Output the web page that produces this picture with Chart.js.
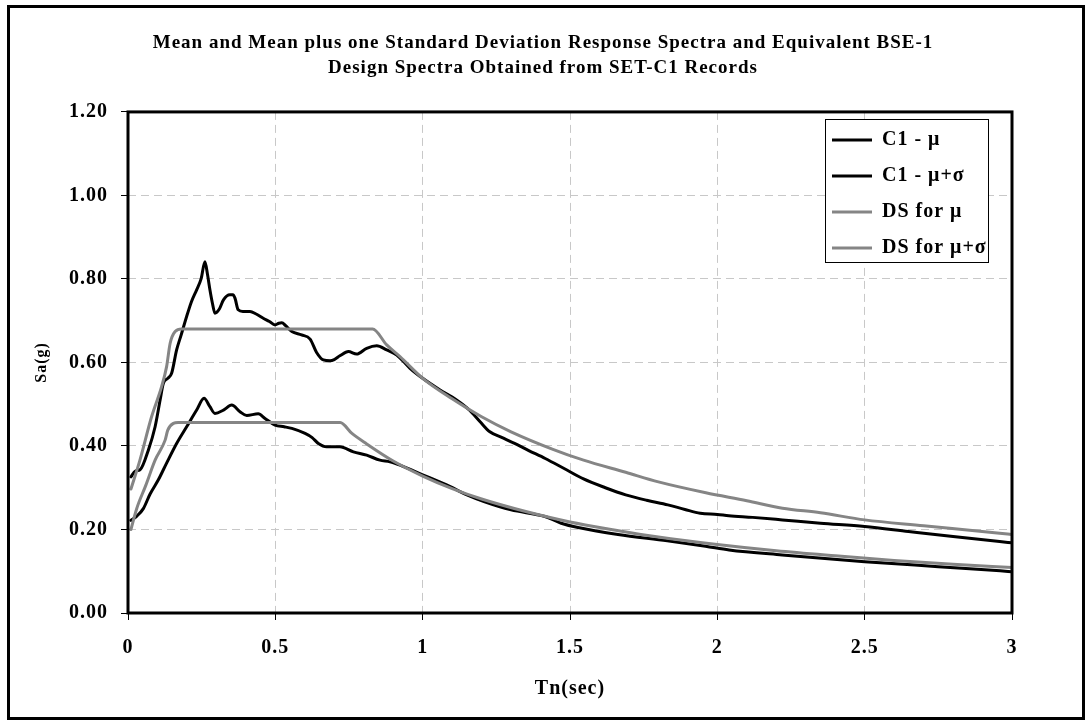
<!DOCTYPE html>
<html>
<head>
<meta charset="utf-8">
<script src="https://cdn.jsdelivr.net/npm/chart.js@4.4.1/dist/chart.umd.min.js"></script>
<style>
  html, body { margin: 0; padding: 0; background: #ffffff; }
  #wrap { width: 1086px; height: 722px; }
</style>
</head>
<body>
<div id="wrap"><canvas id="c" width="1086" height="722"></canvas></div>
<script>
// ---- Data ----
const titleLines = [
  'Mean and Mean plus one Standard Deviation Response Spectra and Equivalent BSE-1',
  'Design Spectra Obtained from SET-C1 Records'
];
const seriesNames = ['C1 - \u03bc', 'C1 - \u03bc+\u03c3', 'DS for \u03bc', 'DS for \u03bc+\u03c3'];
const xAxisTitle = 'Tn(sec)';
const yAxisTitle = 'Sa(g)';

const xTickValues = [0, 0.5, 1, 1.5, 2, 2.5, 3];
const xTickLabels = ['0', '0.5', '1', '1.5', '2', '2.5', '3'];
const yTickValues = [0, 0.2, 0.4, 0.6, 0.8, 1.0, 1.2];
const yTickLabels = ['0.00', '0.20', '0.40', '0.60', '0.80', '1.00', '1.20'];

// C1 - mu (mean spectrum)
const tMu = [0.01, 0.03, 0.052, 0.075, 0.103, 0.131, 0.165, 0.199, 0.233, 0.258, 0.278, 0.295, 0.324, 0.352, 0.38, 0.403, 0.442, 0.465, 0.499, 0.53, 0.556, 0.601, 0.625, 0.646, 0.674, 0.719, 0.765, 0.81, 0.855, 0.889, 0.923, 1.0, 1.092, 1.15, 1.208, 1.30, 1.415, 1.47, 1.532, 1.663, 1.83, 1.96, 2.04, 2.22, 2.5, 2.75, 2.96, 3.0];
const saMu = [0.222, 0.232, 0.25, 0.285, 0.319, 0.359, 0.406, 0.446, 0.486, 0.514, 0.494, 0.478, 0.486, 0.498, 0.482, 0.473, 0.477, 0.466, 0.45, 0.446, 0.442, 0.43, 0.42, 0.406, 0.398, 0.398, 0.386, 0.378, 0.366, 0.362, 0.354, 0.331, 0.303, 0.283, 0.267, 0.247, 0.231, 0.215, 0.204, 0.188, 0.173, 0.160, 0.151, 0.139, 0.123, 0.111, 0.101, 0.099];

// C1 - mu+sigma
const tMuSig = [0.01, 0.025, 0.041, 0.069, 0.092, 0.109, 0.12, 0.135, 0.148, 0.165, 0.18, 0.199, 0.215, 0.233, 0.248, 0.261, 0.27, 0.278, 0.287, 0.295, 0.31, 0.324, 0.346, 0.356, 0.363, 0.374, 0.39, 0.414, 0.435, 0.459, 0.48, 0.499, 0.512, 0.522, 0.535, 0.556, 0.589, 0.618, 0.64, 0.663, 0.686, 0.70, 0.719, 0.748, 0.776, 0.81, 0.844, 0.878, 0.912, 0.957, 1.0, 1.059, 1.115, 1.16, 1.195, 1.228, 1.27, 1.312, 1.36, 1.416, 1.48, 1.546, 1.62, 1.689, 1.76, 1.832, 1.89, 1.942, 2.0, 2.039, 2.12, 2.221, 2.35, 2.5, 2.649, 2.8, 2.958, 3.0];
const saMuSig = [0.326, 0.34, 0.343, 0.39, 0.446, 0.51, 0.55, 0.562, 0.574, 0.63, 0.665, 0.71, 0.745, 0.774, 0.80, 0.841, 0.81, 0.774, 0.74, 0.718, 0.728, 0.75, 0.762, 0.762, 0.754, 0.726, 0.722, 0.722, 0.716, 0.706, 0.698, 0.69, 0.694, 0.695, 0.688, 0.674, 0.666, 0.656, 0.624, 0.606, 0.604, 0.607, 0.616, 0.626, 0.620, 0.634, 0.640, 0.630, 0.618, 0.586, 0.562, 0.534, 0.510, 0.485, 0.458, 0.434, 0.420, 0.406, 0.389, 0.370, 0.346, 0.321, 0.300, 0.283, 0.270, 0.259, 0.248, 0.239, 0.236, 0.233, 0.229, 0.223, 0.215, 0.207, 0.195, 0.183, 0.171, 0.168];

// DS for mu
const tDsMu = [0.01, 0.03, 0.06, 0.092, 0.126, 0.135, 0.154, 0.17, 0.4, 0.72, 0.76, 0.81, 0.9, 1.0, 1.1, 1.2, 1.35, 1.5, 1.65, 1.8, 2.0, 2.2, 2.4, 2.6, 2.8, 3.0];
const saDsMu = [0.2, 0.251, 0.305, 0.366, 0.414, 0.438, 0.454, 0.456, 0.456, 0.456, 0.43, 0.405, 0.364, 0.328, 0.298, 0.273, 0.243, 0.218, 0.199, 0.182, 0.164, 0.149, 0.137, 0.126, 0.117, 0.109];

// DS for mu+sigma
const tDsMuSig = [0.01, 0.04, 0.08, 0.114, 0.131, 0.143, 0.16, 0.182, 0.3, 0.5, 0.7, 0.83, 0.878, 0.923, 1.0, 1.1, 1.2, 1.3, 1.442, 1.546, 1.689, 1.8, 1.961, 2.1, 2.221, 2.35, 2.5, 2.7, 2.958, 3.0];
const saDsMuSig = [0.297, 0.365, 0.47, 0.542, 0.59, 0.646, 0.674, 0.68, 0.68, 0.68, 0.68, 0.68, 0.642, 0.614, 0.562, 0.513, 0.470, 0.434, 0.392, 0.366, 0.337, 0.314, 0.288, 0.269, 0.251, 0.240, 0.223, 0.209, 0.191, 0.188];

// ---- Chart ----
const FONT = "'Liberation Serif', 'Times New Roman', serif";
const zip = (xs, ys) => xs.map((x, i) => ({ x: x, y: ys[i] }));

const spacingPlugin = {
  id: 'spacing',
  beforeUpdate(chart) { chart.ctx.letterSpacing = '1px'; },
  beforeDraw(chart) { chart.ctx.letterSpacing = '1px'; }
};

const framePlugin = {
  id: 'frames',
  afterLayout(chart) {
    const lg = chart.legend;
    if (!lg) return;
    lg.left = 816; lg.top = 114; lg.width = 200; lg.height = 175;
    lg.right = lg.left + lg.width; lg.bottom = lg.top + lg.height;
  },
  afterDatasetsDraw(chart) {
    const ctx = chart.ctx;
    const a = chart.chartArea;
    ctx.save();
    ctx.setLineDash([]);
    ctx.strokeStyle = '#000';
    ctx.lineWidth = 3;
    ctx.strokeRect(a.left, a.top, a.right - a.left, a.bottom - a.top);
    // legend box
    ctx.fillStyle = '#fff';
    ctx.fillRect(825, 119, 163, 143);
    ctx.lineWidth = 1;
    ctx.strokeRect(825.5, 119.5, 163, 143);
    ctx.restore();
    if (chart.legend) chart.legend.draw(chart.chartArea);
  },
  afterDraw(chart) {
    const ctx = chart.ctx;
    ctx.save();
    ctx.setLineDash([]);
    ctx.strokeStyle = '#000';
    ctx.lineWidth = 3;
    ctx.strokeRect(8.5, 6.5, 1075, 712);
    ctx.restore();
  }
};

const lineDefaults = {
  borderWidth: 3,
  pointRadius: 0,
  pointHoverRadius: 0,
  fill: false,
  cubicInterpolationMode: 'monotone',
  borderJoinStyle: 'round',
  borderCapStyle: 'round'
};

new Chart(document.getElementById('c'), {
  type: 'line',
  data: {
    datasets: [
      Object.assign({ label: seriesNames[0], data: zip(tMu, saMu), borderColor: '#000000', backgroundColor: '#000000', order: 1 }, lineDefaults),
      Object.assign({ label: seriesNames[1], data: zip(tMuSig, saMuSig), borderColor: '#000000', backgroundColor: '#000000', order: 1 }, lineDefaults),
      Object.assign({ label: seriesNames[2], data: zip(tDsMu, saDsMu), borderColor: '#858585', backgroundColor: '#858585', order: 0 }, lineDefaults),
      Object.assign({ label: seriesNames[3], data: zip(tDsMuSig, saDsMuSig), borderColor: '#858585', backgroundColor: '#858585', order: 0 }, lineDefaults)
    ]
  },
  options: {
    responsive: false,
    animation: false,
    devicePixelRatio: 1,
    layout: { padding: { left: 10, right: 10, top: 10, bottom: 11 } },
    plugins: {
      tooltip: { enabled: false },
      title: {
        display: true,
        text: titleLines,
        color: '#000',
        font: { family: FONT, size: 19, weight: 'bold', lineHeight: 1.34 },
        padding: { top: 20, bottom: 31 }
      },
      legend: {
        display: true,
        position: 'chartArea',
        align: 'start',
        labels: {
          color: '#000',
          font: { family: FONT, size: 20, weight: 'bold' },
          usePointStyle: true,
          pointStyle: 'line',
          pointStyleWidth: 40,
          padding: 16,
          sort: (a, b) => a.datasetIndex - b.datasetIndex
        }
      }
    },
    scales: {
      x: {
        type: 'linear',
        min: 0, max: 3,
        afterBuildTicks: (s) => { s.ticks = xTickValues.map(v => ({ value: v })); },
        afterFit: (s) => { s.height = 98; },
        ticks: {
          color: '#000',
          font: { family: FONT, size: 20, weight: 'bold' },
          padding: 16,
          maxRotation: 0,
          callback: (v, i) => xTickLabels[i]
        },
        grid: {
          color: '#c8c8c8',
          lineWidth: 1,
          drawTicks: true,
          tickLength: 7,
          tickColor: '#000',
          tickWidth: 1,
          tickBorderDash: []
        },
        border: { display: false, dash: [8, 5] },
        title: {
          display: true,
          text: xAxisTitle,
          color: '#000',
          font: { family: FONT, size: 20, weight: 'bold' },
          padding: { top: 0, bottom: 10 }
        }
      },
      y: {
        type: 'linear',
        min: 0, max: 1.2,
        afterBuildTicks: (s) => { s.ticks = yTickValues.map(v => ({ value: v })); },
        afterFit: (s) => { s.width = 118; },
        ticks: {
          color: '#000',
          font: { family: FONT, size: 20, weight: 'bold' },
          padding: 13,
          callback: (v, i) => yTickLabels[i]
        },
        grid: {
          color: '#c8c8c8',
          lineWidth: 1,
          drawTicks: true,
          tickLength: 7,
          tickColor: '#000',
          tickWidth: 1,
          tickBorderDash: []
        },
        border: { display: false, dash: [8, 5] },
        title: {
          display: true,
          text: yAxisTitle,
          color: '#000',
          font: { family: FONT, size: 16, weight: 'bold' },
          padding: { top: 22, bottom: 0 }
        }
      },
      y2: {
        type: 'linear',
        position: 'right',
        display: true,
        min: 0, max: 1.2,
        afterFit: (s) => { s.width = 64; },
        ticks: { display: false },
        grid: { display: false, drawTicks: false },
        border: { display: false }
      }
    }
  },
  plugins: [spacingPlugin, framePlugin]
});
</script>
</body>
</html>
